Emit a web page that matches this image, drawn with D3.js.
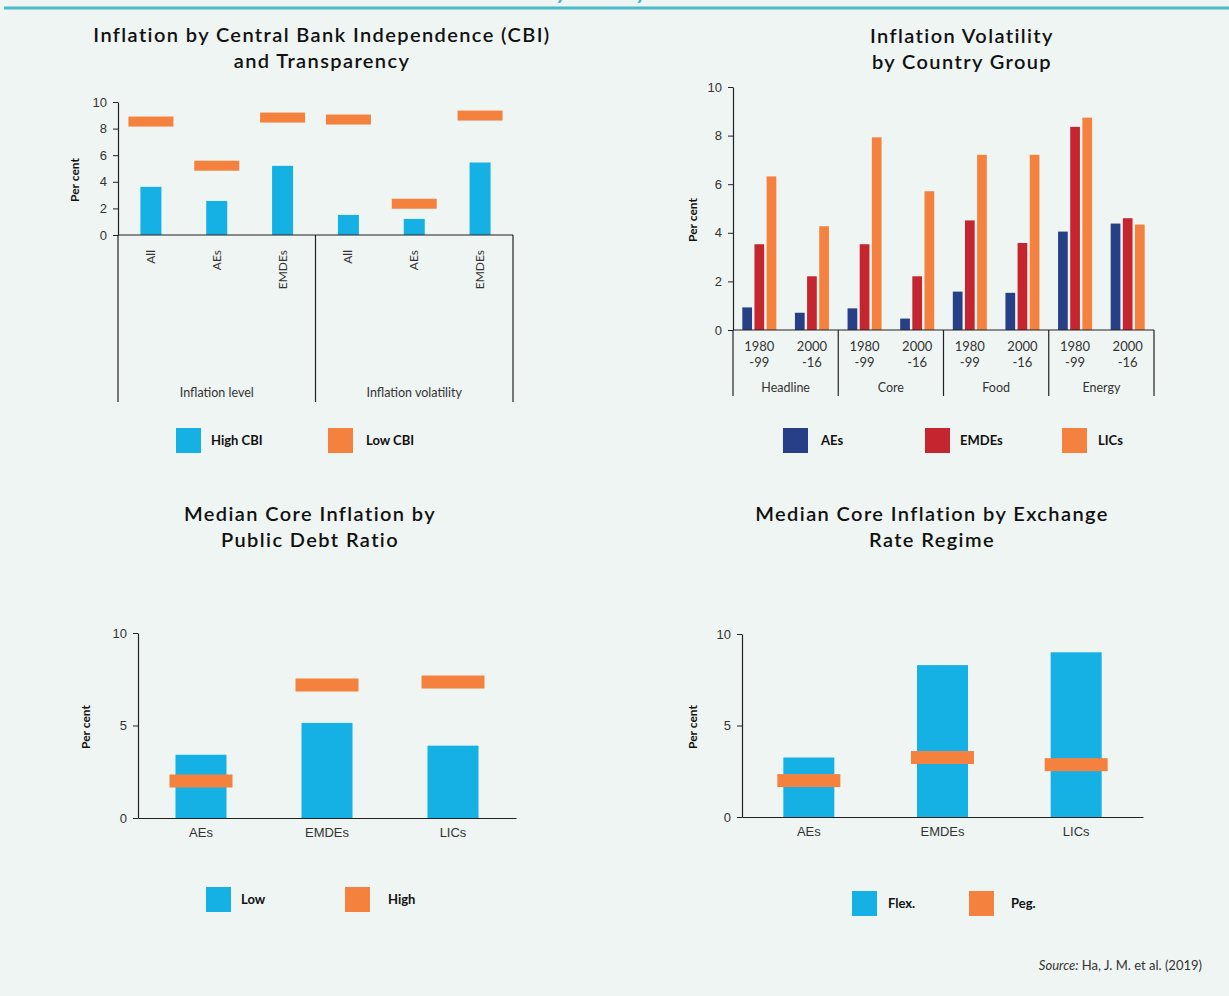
<!DOCTYPE html>
<html>
<head>
<meta charset="utf-8">
<script src="https://cdn.jsdelivr.net/npm/d3@7"></script>
<style>
  html, body { margin: 0; padding: 0; background: #eff5f3; }
  svg { display: block; font-family: Lato, "Open Sans", sans-serif; }
  .tick text { font-size: 13px; fill: #333; }
  .tick line, .domain { stroke: #222; }
</style>
</head>
<body>
<svg id="chart" width="1229" height="996"></svg>
<script>
'use strict';

// Panel 1: CBI
const cbiCats = ["All", "AEs", "EMDEs", "All", "AEs", "EMDEs"];
const cbiGroups = ["Inflation level", "Inflation volatility"];
const cbiHigh = [3.62, 2.56, 5.2, 1.51, 1.21, 5.45];
const cbiLow = [8.53, 5.21, 8.83, 8.68, 2.35, 8.98];
const cbiTicks = [0, 2, 4, 6, 8, 10];

// Panel 2: volatility by group
const volGroups = ["Headline", "Core", "Food", "Energy"];
const volPeriods = [["1980", "-99"], ["2000", "-16"]];
const volSeries = ["AEs", "EMDEs", "LICs"];
const volAEs = [0.93, 0.71, 0.89, 0.47, 1.58, 1.53, 4.05, 4.38];
const volEMDEs = [3.53, 2.21, 3.53, 2.21, 4.51, 3.58, 8.36, 4.60];
const volLICs = [6.32, 4.27, 7.93, 5.71, 7.21, 7.21, 8.74, 4.34];
const volTicks = [0, 2, 4, 6, 8, 10];

// Panel 3: public debt
const debtCats = ["AEs", "EMDEs", "LICs"];
const debtLow = [3.42, 5.14, 3.91];
const debtHigh = [2.0, 7.19, 7.35];

// Panel 4: exchange rate regime
const erCats = ["AEs", "EMDEs", "LICs"];
const erFlex = [3.25, 8.3, 9.0];
const erPeg = [1.99, 3.25, 2.86];
const fiveTicks = [0, 5, 10];

const BLUE = "#15b0e4", ORANGE = "#f5813f", NAVY = "#263f86", RED = "#c4252f";
const INK = "#222";

const svg = d3.select('#chart');

// header rule with the cut-off heading above it
svg.append('text')
    .attr('x', 449).attr('y', -2)
    .attr('fill', '#3fb8c8')
    .attr('font-size', 30).attr('font-style', 'italic')
    .text('Monetary Policy');
svg.append('line')
    .attr('x1', 4).attr('x2', 1229).attr('y1', 8).attr('y2', 8)
    .attr('stroke', '#4bbac8').attr('stroke-width', 3);

function title(cx, y, lines) {
    lines.forEach((l, i) => {
        svg.append('text')
            .attr('x', cx).attr('y', y + i * 26)
            .attr('text-anchor', 'middle')
            .attr('font-size', 20).attr('font-weight', 600)
            .attr('letter-spacing', 1.4)
            .attr('fill', '#111')
            .text(l);
    });
}

function yLabel(x, y) {
    svg.append('text')
        .attr('transform', `translate(${x},${y}) rotate(-90)`)
        .attr('text-anchor', 'middle')
        .attr('font-size', 12).attr('font-weight', 700)
        .attr('fill', '#111')
        .text('Per cent');
}

function yAxis(g, y, ticks) {
    g.call(d3.axisLeft(y).tickValues(ticks).tickSize(5).tickSizeOuter(0).tickPadding(6));
    g.selectAll('.domain').attr('stroke-width', 1.2);
}

function legend(items, y) {
    items.forEach(it => {
        svg.append('rect')
            .attr('x', it.x).attr('y', y)
            .attr('width', 25).attr('height', 25)
            .attr('fill', it.color);
        svg.append('text')
            .attr('x', it.tx).attr('y', y + 17)
            .attr('font-size', 13).attr('font-weight', 700)
            .attr('fill', '#111')
            .text(it.label);
    });
}

// ---------- Panel 1 ----------
{
    title(322, 42, ["Inflation by Central Bank Independence (CBI)", "and Transparency"]);
    const x = d3.scaleBand().domain(d3.range(cbiCats.length)).range([118, 513]);
    const y = d3.scaleLinear().domain([0, 10]).range([235, 102]);
    const bottom = 402;

    svg.append('g').selectAll('rect')
        .data(cbiHigh)
        .join('rect')
            .attr('x', (d, i) => x(i) + x.bandwidth() / 2 - 10.5)
            .attr('y', d => y(d))
            .attr('width', 21)
            .attr('height', d => y(0) - y(d))
            .attr('fill', BLUE);

    svg.append('g').selectAll('rect')
        .data(cbiLow)
        .join('rect')
            .attr('x', (d, i) => x(i) + x.bandwidth() / 2 - 22.5)
            .attr('y', d => y(d) - 5)
            .attr('width', 45)
            .attr('height', 10)
            .attr('fill', ORANGE);

    yAxis(svg.append('g').attr('transform', 'translate(118,0)'), y, cbiTicks);

    // x axis + group separators
    svg.append('line').attr('x1', 118).attr('x2', 513).attr('y1', y(0)).attr('y2', y(0))
        .attr('stroke', INK).attr('stroke-width', 1.2);
    [0, 3, 6].forEach(i => {
        const xx = i < 6 ? x(i) : x.range()[1];
        svg.append('line').attr('x1', xx).attr('x2', xx).attr('y1', y(0)).attr('y2', bottom)
            .attr('stroke', INK).attr('stroke-width', 1.2);
    });

    svg.append('g').selectAll('text')
        .data(cbiCats)
        .join('text')
            .attr('transform', (d, i) => `translate(${x(i) + x.bandwidth() / 2 + 4},250) rotate(-90)`)
            .attr('text-anchor', 'end')
            .attr('font-size', 12).attr('fill', '#333')
            .text(d => d);

    svg.append('g').selectAll('text')
        .data(cbiGroups)
        .join('text')
            .attr('x', (d, i) => (x(i * 3) + (i * 3 + 3 < 6 ? x(i * 3 + 3) : 513)) / 2)
            .attr('y', 397)
            .attr('text-anchor', 'middle')
            .attr('font-size', 12.5).attr('fill', '#333')
            .text(d => d);

    yLabel(79, 180);
    legend([
        { x: 176, tx: 211, color: BLUE, label: 'High CBI' },
        { x: 328, tx: 366, color: ORANGE, label: 'Low CBI' }
    ], 428);
}

// ---------- Panel 2 ----------
{
    title(962, 43, ["Inflation Volatility", "by Country Group"]);
    const x0 = d3.scaleBand().domain(d3.range(volAEs.length)).range([733, 1154]);
    const x1 = d3.scaleBand().domain(volSeries).range([-17, 17]).paddingInner(0.2);
    const y = d3.scaleLinear().domain([0, 10]).range([330, 87]);
    const bottom = 396;
    const series = [volAEs, volEMDEs, volLICs];
    const colors = [NAVY, RED, ORANGE];

    series.forEach((vals, s) => {
        svg.append('g').selectAll('rect')
            .data(vals)
            .join('rect')
                .attr('x', (d, i) => x0(i) + x0.bandwidth() / 2 + x1(volSeries[s]))
                .attr('y', d => y(d))
                .attr('width', x1.bandwidth())
                .attr('height', d => y(0) - y(d))
                .attr('fill', colors[s]);
    });

    yAxis(svg.append('g').attr('transform', 'translate(733,0)'), y, volTicks);

    svg.append('line').attr('x1', 733).attr('x2', 1154).attr('y1', y(0)).attr('y2', y(0))
        .attr('stroke', INK).attr('stroke-width', 1.2);
    d3.range(volGroups.length + 1).forEach(g => {
        const xx = g < volGroups.length ? x0(g * 2) : x0.range()[1];
        svg.append('line').attr('x1', xx).attr('x2', xx).attr('y1', y(0)).attr('y2', bottom)
            .attr('stroke', INK).attr('stroke-width', 1.2);
    });

    const periodLabels = volGroups.flatMap(() => volPeriods);
    const pl = svg.append('g').selectAll('text')
        .data(periodLabels)
        .join('text')
            .attr('x', (d, i) => x0(i) + x0.bandwidth() / 2)
            .attr('text-anchor', 'middle')
            .attr('font-size', 13).attr('fill', '#333');
    pl.append('tspan').attr('y', 351).text(d => d[0]);
    pl.append('tspan').attr('y', 367).attr('x', (d, i) => x0(i) + x0.bandwidth() / 2).text(d => d[1]);

    svg.append('g').selectAll('text')
        .data(volGroups)
        .join('text')
            .attr('x', (d, i) => x0(i * 2) + x0.bandwidth())
            .attr('y', 392)
            .attr('text-anchor', 'middle')
            .attr('font-size', 12.5).attr('fill', '#333')
            .text(d => d);

    yLabel(697, 220);
    legend([
        { x: 783, tx: 821, color: NAVY, label: 'AEs' },
        { x: 925, tx: 960, color: RED, label: 'EMDEs' },
        { x: 1062, tx: 1098, color: ORANGE, label: 'LICs' }
    ], 428);
}

// ---------- Panels 3 & 4 ----------
function barMarker(opts) {
    const x = d3.scaleBand().domain(opts.cats).range([opts.x0, opts.x1]);
    const y = d3.scaleLinear().domain([0, 10]).range([opts.y0, opts.y10]);

    svg.append('g').selectAll('rect')
        .data(opts.bars)
        .join('rect')
            .attr('x', (d, i) => x(opts.cats[i]) + x.bandwidth() / 2 - 25.5)
            .attr('y', d => y(d))
            .attr('width', 51)
            .attr('height', d => y(0) - y(d))
            .attr('fill', BLUE);

    svg.append('g').selectAll('rect')
        .data(opts.marks)
        .join('rect')
            .attr('x', (d, i) => x(opts.cats[i]) + x.bandwidth() / 2 - 31.5)
            .attr('y', d => y(d) - 6.5)
            .attr('width', 63)
            .attr('height', 13)
            .attr('fill', ORANGE);

    yAxis(svg.append('g').attr('transform', `translate(${opts.x0},0)`), y, fiveTicks);

    const xg = svg.append('g').attr('transform', `translate(0,${opts.y0})`)
        .call(d3.axisBottom(x).tickSize(0).tickSizeOuter(0).tickPadding(10));
    xg.selectAll('.domain').attr('stroke-width', 1.2);
    xg.selectAll('.tick text').attr('font-size', 12.5);

    yLabel(opts.labelX, 727);
}

title(310, 521, ["Median Core Inflation by", "Public Debt Ratio"]);
barMarker({ cats: debtCats, bars: debtLow, marks: debtHigh, x0: 138, x1: 516, y0: 818, y10: 633, labelX: 90 });
legend([
    { x: 206, tx: 241, color: BLUE, label: 'Low' },
    { x: 345, tx: 388, color: ORANGE, label: 'High' }
], 887);

title(932, 521, ["Median Core Inflation by Exchange", "Rate Regime"]);
barMarker({ cats: erCats, bars: erFlex, marks: erPeg, x0: 742, x1: 1143, y0: 817, y10: 634, labelX: 697 });
legend([
    { x: 852, tx: 888, color: BLUE, label: 'Flex.' },
    { x: 969, tx: 1011, color: ORANGE, label: 'Peg.' }
], 891);

// source
const src = svg.append('text')
    .attr('x', 1202).attr('y', 970)
    .attr('text-anchor', 'end')
    .attr('font-size', 13).attr('fill', '#333');
src.append('tspan').attr('font-style', 'italic').text('Source:');
src.append('tspan').text(' Ha, J. M. et al. (2019)');
</script>
</body>
</html>
